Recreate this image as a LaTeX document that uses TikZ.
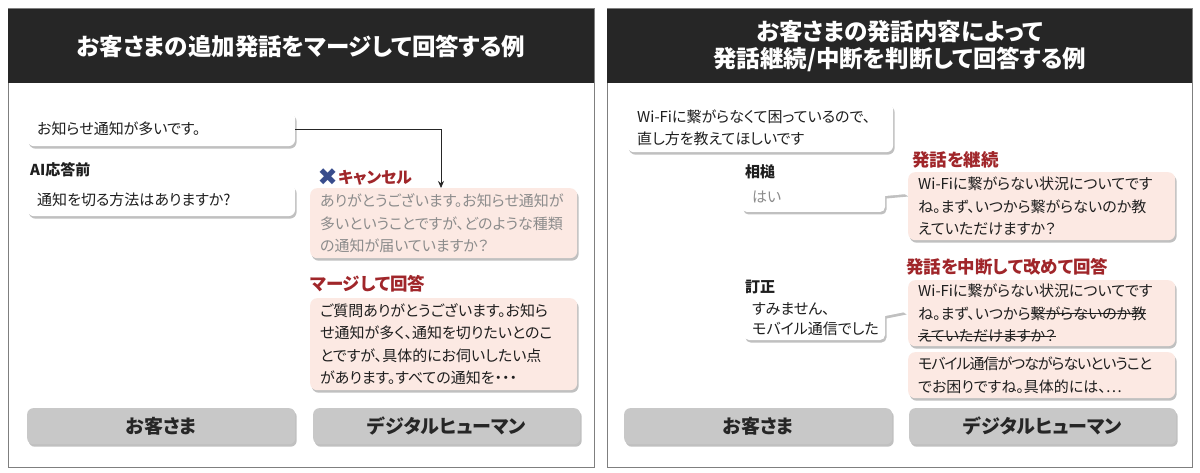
\documentclass[tikz,border=0pt]{standalone}
\usepackage{fontspec}
\setmainfont{Noto Sans CJK JP}[RawFeature=+palt]
\newfontfamily\dejavu{DejaVu Sans}
\usetikzlibrary{shadows,arrows.meta}
\definecolor{hdr}{RGB}{38,38,38}
\definecolor{frame}{RGB}{127,127,127}
\definecolor{darkred}{RGB}{160,38,42}
\definecolor{xblue}{RGB}{56,76,140}
\definecolor{pinkfill}{RGB}{252,233,227}
\definecolor{graytext}{RGB}{140,140,140}
\definecolor{labgray}{RGB}{200,200,200}
\definecolor{bodytext}{RGB}{30,30,30}
\newcommand\stk[1]{\leavevmode\setbox0\hbox{#1}\rlap{\rule[0.33em]{\wd0}{0.7pt}}\box0}
\tikzset{
  shd/.style={drop shadow={shadow xshift=1.5pt, shadow yshift=-2.5pt, opacity=0.35, fill=black!70}},
  bodyfont/.style={font=\fontsize{15}{22.5}\selectfont},
  bubble/.style={shd, fill=white, rounded corners=7pt, inner xsep=10pt, inner ysep=3pt, align=left, text=bodytext, bodyfont},
  pinkbub/.style={bubble, fill=pinkfill},
  redlab/.style={text=darkred, font=\bfseries\fontsize{17.5}{19}\selectfont, inner sep=0pt},
  blklab/.style={text=bodytext, font=\bfseries\fontsize{15}{17}\selectfont, inner sep=0pt},
  graybox/.style={shd, fill=labgray, rounded corners=6pt, text=hdr, font=\bfseries\fontsize{19}{21}\selectfont},
  panel/.style={draw=frame, line width=1pt},
  header/.style={fill=hdr, text=white, align=center, font=\bfseries\fontsize{23.5}{27}\selectfont},
  arrowline/.style={draw=hdr, line width=0.8pt, -{Stealth[length=7pt,width=6pt]}},
  tailbub/.style={shd, fill=white, line join=round}
}
\begin{document}
\begin{tikzpicture}[x=1pt,y=-1pt]
\useasboundingbox (0,0) rectangle (1200,473);
\fill[white] (0,0) rectangle (1200,473);

% ===== Left panel =====
\draw[panel] (8,9) rectangle (594,467);
\node[header, minimum width=586pt, minimum height=74pt, anchor=north west] (lhead) at (8,9) {お客さまの追加発話をマージして回答する例};

\node[bubble, anchor=north west, minimum height=34pt, text width=248pt] (b1) at (27,112) {お知らせ通知が多いです。};
\node[blklab, anchor=west] (lai) at (30,170) {AI応答前};
\node[bubble, anchor=north west, minimum height=32pt, text width=248pt] (b2) at (27,184) {通知を切る方法はありますか?};

\node[redlab, anchor=west, font=\bfseries\fontsize{16}{18}\selectfont] (lcancel) at (338,178) {キャンセル};
\node[anchor=east, inner sep=0pt, text=xblue, font=\dejavu\fontsize{24}{24}\selectfont] (xmark) at ([yshift=1pt]lcancel.west) {✖};
\node[pinkbub, anchor=north west, minimum height=70pt, text width=247pt, text=graytext] (c1) at (310,188) {ありがとうございます。お知らせ通知が\\多いということですが、どのような種類\\の通知が届いていますか？};
\coordinate (arrEnd) at (441,188);
\draw[arrowline] (b1.east) -| (arrEnd);

\node[redlab, anchor=west] (lmerge) at (310,284) {マージして回答};
\node[pinkbub, anchor=north west, minimum height=92pt, text width=247pt] (m1) at (310,298) {ご質問ありがとうございます。お知ら\\せ通知が多く、通知を切りたいとのこ\\とですが、具体的にお伺いしたい点\\があります。すべての通知を・・・};

\node[graybox, anchor=north west, minimum width=268pt, minimum height=36pt] (g1) at (27,408) {お客さま};
\node[graybox, anchor=north west, minimum width=267pt, minimum height=36pt] (g2) at (313,408) {デジタルヒューマン};

% ===== Right panel =====
\draw[panel] (607,9) rectangle (1192,467);
\node[header, minimum width=585pt, minimum height=74pt, anchor=north west] (rhead) at (607,9) {お客さまの発話内容によって\\発話継続/中断を判断して回答する例};

\node[bubble, anchor=north west, minimum height=49pt, text width=246pt] (w1) at (627,103) {Wi-Fiに繋がらなくて困っているので、\\直し方を教えてほしいです};

\node[blklab, anchor=west] (laizu) at (745,172) {相槌};
\path[tailbub] [rounded corners=5pt] (742,196) |- (885,181) [sharp corners] -- (907,194) -- (885,196) [rounded corners=5pt] |- (742,212) -- cycle;
\node[anchor=west, inner sep=0pt, text=graytext, bodyfont] (h1) at (752,197) {はい};

\node[redlab, anchor=west] (lcont) at (912,160) {発話を継続};
\node[pinkbub, anchor=north west, minimum height=68pt, text width=247pt] (p1) at (908,172) {Wi-Fiに繋がらない状況についてです\\ね。まず、いつから繋がらないのか教\\えていただけますか？};

\node[redlab, anchor=west] (lstop) at (906,267) {発話を中断して改めて回答};
\node[blklab, anchor=west] (lteisei) at (745,287) {訂正};
\path[tailbub] [rounded corners=5pt] (744,320) |- (885,298) [sharp corners] -- (905,312) -- (885,316) [rounded corners=5pt] |- (744,340) -- cycle;
\node[anchor=west, inner sep=0pt, align=left, text=bodytext, font=\fontsize{15}{20}\selectfont] (s1) at (752,319) {すみません、\\モバイル通信でした};

\node[pinkbub, anchor=north west, minimum height=66pt, text width=247pt] (p2) at (908,280) {Wi-Fiに繋がらない状況についてです\\ね。まず、いつから\stk{繋がらないのか教}\\\stk{えていただけますか？}};
\node[pinkbub, anchor=north west, minimum height=46pt, text width=247pt] (p3) at (908,352) {{\addfontfeature{LetterSpace=-7}モバイル通信がつながらないということ}\\でお困りですね。具体的には、…};

\node[graybox, anchor=north west, minimum width=268pt, minimum height=36pt] (g3) at (624,408) {お客さま};
\node[graybox, anchor=north west, minimum width=267pt, minimum height=36pt] (g4) at (909,408) {デジタルヒューマン};
\end{tikzpicture}
\end{document}
